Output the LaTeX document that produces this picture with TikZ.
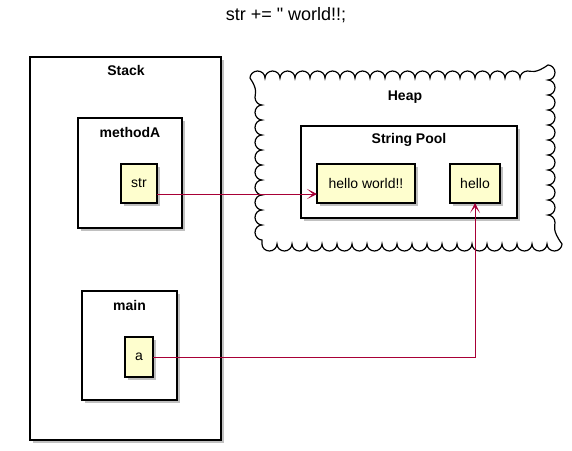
\documentclass[tikz,border=0pt]{standalone}
\usepackage{fontspec}
\setmainfont{Liberation Sans}[Ligatures=TeXOff]
\usetikzlibrary{shadows,arrows.meta,decorations.pathmorphing,calc}
\definecolor{nodefill}{HTML}{FEFECE}
\definecolor{arrowred}{HTML}{A80036}
\tikzset{
  shadowed/.style={drop shadow={shadow xshift=3pt,shadow yshift=-3pt,opacity=0.35,fill=black!70}},
  container/.style={draw=black,line width=1.4pt,fill=white,shadowed,inner sep=0pt,outer sep=0pt},
  item/.style={draw=black,line width=1.2pt,fill=nodefill,shadowed,inner sep=0pt,outer sep=0pt,font=\fontsize{14}{16}\selectfont},
  ctitle/.style={font=\fontsize{14}{16}\selectfont\bfseries},
  heapcloud/.style={draw=black,line width=1.2pt,inner sep=0pt,outer sep=0pt,decorate,decoration={bumps,segment length=30pt,amplitude=-7pt}},
  conn/.style={draw=arrowred,line width=1pt},
  arr/.style={conn,-{Stealth[length=10pt,width=10pt,inset=6pt]}}
}
\begin{document}
\begin{tikzpicture}[x=1pt,y=-1pt]
\useasboundingbox (0,0) rectangle (572,450);
\node[font=\fontsize{18}{20}\selectfont] (title) at (286,15) {str += " world!!;};
% Stack
\node[container,minimum width=191pt,minimum height=383pt] (stack) at (125.5,248.5) {};
\node[ctitle] (stackt) at (126,70) {Stack};
\node[container,minimum width=104pt,minimum height=110pt] (methodA) at (130,173) {};
\node[ctitle] (methodAt) at (130,132) {methodA};
\node[item,minimum width=36pt,minimum height=39pt] (str) at (139,183.5) {str};
\node[container,minimum width=95pt,minimum height=109pt] (main) at (129.5,345.5) {};
\node[ctitle] (maint) at (129.5,305) {main};
\node[item,minimum width=28pt,minimum height=40pt] (a) at (139,357) {a};
% Heap
\node[heapcloud,minimum width=286pt,minimum height=166pt] (heap) at (405,161) {};
\node[ctitle] (heapt) at (405,97) {Heap};
\node[container,minimum width=216pt,minimum height=92pt] (pool) at (409,172) {};
\node[ctitle] (poolt) at (409,140) {String Pool};
\node[item,minimum width=98pt,minimum height=39pt] (hw) at (366,183.5) {hello world!!};
\node[item,minimum width=50pt,minimum height=39pt] (hello) at (475,183.5) {hello};
% connectors
\draw[arr] ($(str.east)+(0,10.5)$) -- ($(hw.west)+(0,10.5)$);
\draw[arr] (a.east) -| (hello.south);
\end{tikzpicture}
\end{document}
